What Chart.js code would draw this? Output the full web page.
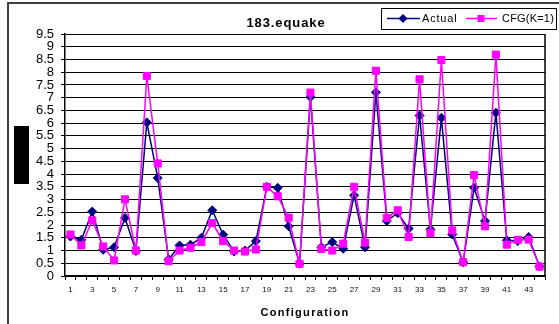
<!DOCTYPE html>
<html lang="en">

<head>
  <meta charset="UTF-8">
  <title>183.equake</title>
  <script src="https://cdn.jsdelivr.net/npm/chart.js"></script>
  <style>
    body { margin: 0; background: #fff; }
    #wrap { width: 559px; height: 324px; position: relative; }
  </style>
</head>

<body>
  <div id="wrap">
    <canvas id="chartEquake" width="559" height="324"></canvas>
  </div>

  <script>
    // Configurations 1..44
    var configuracoes = [];
    for (var i = 1; i <= 44; i++) configuracoes.push(String(i));

    var valoresActual = [1.55, 1.42, 2.53, 1.03, 1.13, 2.28, 0.98, 6.03, 3.85, 0.65,
      1.2, 1.23, 1.5, 2.58, 1.62, 0.96, 1.0, 1.37, 3.5, 3.46,
      1.95, 0.48, 7.02, 1.13, 1.33, 1.07, 3.17, 1.13, 7.21, 2.16,
      2.47, 1.86, 6.3, 1.83, 6.21, 1.63, 0.54, 3.46, 2.16, 6.41,
      1.4, 1.37, 1.53, 0.37];

    var valoresCFG = [1.63, 1.2, 2.18, 1.16, 0.61, 3.01, 1.0, 7.85, 4.42, 0.58,
      1.0, 1.11, 1.33, 2.08, 1.37, 1.0, 0.96, 1.04, 3.5, 3.13,
      2.29, 0.48, 7.2, 1.06, 1.0, 1.27, 3.5, 1.31, 8.06, 2.28,
      2.58, 1.53, 7.72, 1.69, 8.48, 1.79, 0.54, 3.96, 1.95, 8.69,
      1.23, 1.42, 1.43, 0.37];

    var tituloGrafico = '183.equake';
    var tituloEixoX = 'Configuration';
    var nomesSeries = ['Actual', 'CFG(K=1)'];

    var fonte = "'Liberation Sans', Arial, sans-serif";
    var corActual = '#000080';
    var corCFG = '#ff00ff';

    // frame, title, legend, plot border and x axis title
    var decoracao = {
      id: 'decoracao',
      afterDraw: function (chart) {
        var ctx = chart.ctx;
        var area = chart.chartArea;
        ctx.save();

        // outer frame
        ctx.strokeStyle = '#404040';
        ctx.lineWidth = 2;
        ctx.strokeRect(8, 3, 700, 500);

        // plot border on the right
        ctx.strokeStyle = '#000';
        ctx.lineWidth = 1.5;
        ctx.beginPath();
        ctx.moveTo(area.right, area.top);
        ctx.lineTo(area.right, area.bottom);
        ctx.stroke();

        // y axis title block
        ctx.fillStyle = '#000';
        ctx.fillRect(14, 126, 15, 58);

        // title
        ctx.fillStyle = '#000';
        ctx.font = 'bold 13px ' + fonte;
        ctx.letterSpacing = '0.9px';
        ctx.textAlign = 'center';
        ctx.textBaseline = 'alphabetic';
        ctx.fillText(tituloGrafico, 286, 27);

        // x axis title
        ctx.font = 'bold 11px ' + fonte;
        ctx.letterSpacing = '1.3px';
        ctx.fillText(tituloEixoX, 305, 316);

        // legend
        ctx.fillStyle = '#fff';
        ctx.fillRect(381, 8, 176, 22);
        ctx.strokeStyle = '#000';
        ctx.lineWidth = 1;
        ctx.strokeRect(381.5, 8.5, 175, 21);

        var ly = 18.5;
        ctx.lineWidth = 1.5;
        ctx.strokeStyle = corActual;
        ctx.beginPath();
        ctx.moveTo(387, ly);
        ctx.lineTo(420, ly);
        ctx.stroke();
        ctx.fillStyle = corActual;
        ctx.beginPath();
        ctx.moveTo(403, ly - 4.5);
        ctx.lineTo(407.5, ly);
        ctx.lineTo(403, ly + 4.5);
        ctx.lineTo(398.5, ly);
        ctx.closePath();
        ctx.fill();

        ctx.strokeStyle = corCFG;
        ctx.beginPath();
        ctx.moveTo(466, ly);
        ctx.lineTo(497, ly);
        ctx.stroke();
        ctx.fillStyle = corCFG;
        ctx.fillRect(477.5, ly - 3.5, 7, 7);

        ctx.fillStyle = '#000';
        ctx.font = '11px ' + fonte;
        ctx.textAlign = 'left';
        ctx.textBaseline = 'middle';
        ctx.letterSpacing = '0.8px';
        ctx.fillText(nomesSeries[0], 422, ly);
        ctx.letterSpacing = '0.2px';
        ctx.fillText(nomesSeries[1], 502, ly);

        ctx.restore();
      }
    };

    var canva_chartEquake = document.getElementById('chartEquake');
    var grafico_Equake = new Chart(canva_chartEquake, {
      type: 'line',
      data: {
        labels: configuracoes,
        datasets: [{
          label: nomesSeries[0],
          data: valoresActual,
          borderColor: corActual,
          backgroundColor: corActual,
          borderWidth: 1.5,
          pointStyle: 'rectRot',
          pointRadius: 4.5,
          pointBorderWidth: 1,
          tension: 0,
          order: 2
        }, {
          label: nomesSeries[1],
          data: valoresCFG,
          borderColor: corCFG,
          backgroundColor: corCFG,
          borderWidth: 1.5,
          pointStyle: 'rect',
          pointRadius: 5,
          pointBorderWidth: 1,
          tension: 0,
          order: 1
        }]
      },
      options: {
        responsive: false,
        animation: false,
        devicePixelRatio: 1,
        layout: {
          padding: { left: 0, top: 34, right: 14, bottom: 0 }
        },
        plugins: {
          legend: { display: false },
          title: { display: false },
          tooltip: { enabled: false }
        },
        scales: {
          x: {
            offset: true,
            afterFit: function (scale) { scale.height = 48; },
            grid: {
              offset: true,
              drawOnChartArea: false,
              drawTicks: true,
              tickLength: 4,
              color: '#000'
            },
            border: { display: true, color: '#000', width: 1.5 },
            ticks: {
              autoSkip: false,
              maxRotation: 0,
              padding: 5,
              color: '#111',
              font: { family: fonte, size: 8 },
              callback: function (valor, indice) {
                return indice % 2 == 0 ? configuracoes[indice] : '';
              }
            }
          },
          y: {
            min: 0,
            max: 9.5,
            afterFit: function (scale) { scale.width = 65; },
            grid: {
              color: '#000',
              lineWidth: 1,
              drawTicks: true,
              tickLength: 4
            },
            border: { display: true, color: '#000', width: 1.5 },
            ticks: {
              stepSize: 0.5,
              autoSkip: false,
              padding: 7,
              color: '#000',
              font: { family: fonte, size: 13 },
              callback: function (valor) { return String(valor); }
            }
          }
        }
      },
      plugins: [decoracao]
    });
  </script>
</body>

</html>
